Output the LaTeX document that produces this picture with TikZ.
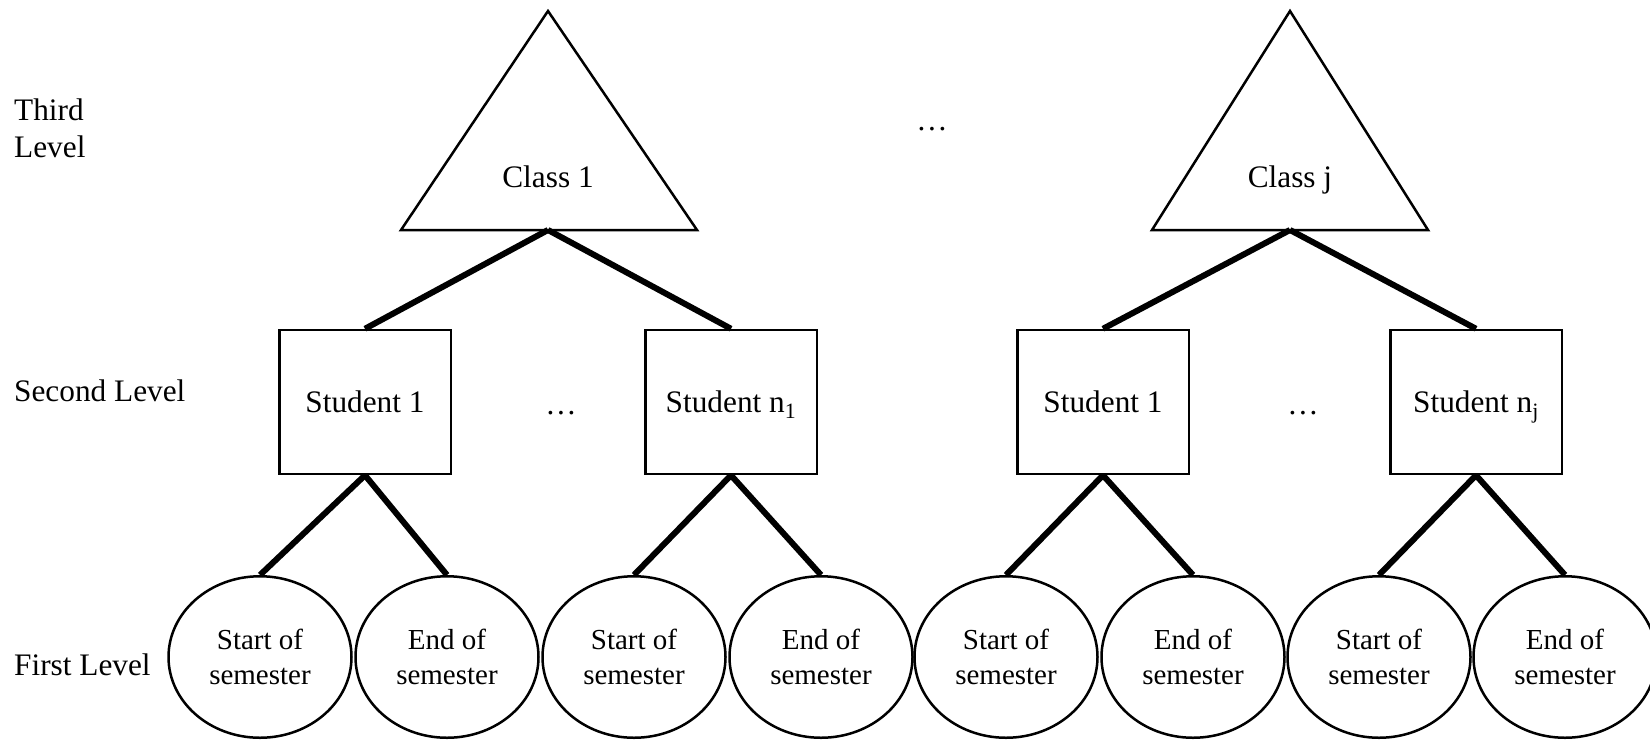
\documentclass[tikz,border=0pt]{standalone}
\usepackage{fontspec}
\setmainfont{Liberation Serif}
\usetikzlibrary{shapes.geometric,calc}
\newcommand\mainsz{\fontsize{31.3}{37}\selectfont}
\newcommand\semsz{\fontsize{29}{35}\selectfont}
\begin{document}
\begin{tikzpicture}[x=1pt,y=-1pt,
  outline/.style={line width=2.5pt},
  link/.style={line width=6pt},
  classtri/.style={outline, line join=miter},
  stud/.style={draw, outline, minimum width=171.5pt, minimum height=144pt,
    inner sep=0pt, font=\mainsz, text height=21.3pt, text depth=0pt},
  sem/.style={ellipse, draw, outline, minimum width=183pt, minimum height=161.5pt,
    inner sep=0pt, align=center, font=\semsz},
  lbl/.style={anchor=west, inner sep=0pt, align=left, font=\mainsz},
  txt/.style={inner sep=0pt, font=\mainsz, text height=21.3pt, text depth=0pt}]
\useasboundingbox (0,0) rectangle (1650,740);

% level labels
\node[lbl] (l3) at (14,128) {Third\\Level};
\node[lbl] (l2) at (14,391) {Second Level};
\node[lbl] (l1) at (14,665) {First Level};

% third level: classes
\draw[classtri] (548,11) -- (697,230) -- (401,230) -- cycle;
\coordinate (c1b) at (548,230);
\node[txt] (c1) at (548,177) {Class 1};
\draw[classtri] (1290,11) -- (1428,230) -- (1152,230) -- cycle;
\coordinate (cjb) at (1290,230);
\node[txt] (cj) at (1290,177) {Class j};
\node[inner sep=0pt, font=\mainsz] (d0) at (932,129) {…};

% second level: students
\node[stud] (s1) at (365,402) {Student 1};
\node[stud] (s2) at (731,402) {Student n\textsubscript{1}};
\node[stud] (s3) at (1103,402) {Student 1};
\node[stud] (s4) at (1476,402) {Student n\textsubscript{j}};
\node[inner sep=0pt, font=\mainsz] (d1) at (561,413) {…};
\node[inner sep=0pt, font=\mainsz] (d2) at (1303,413) {…};

% first level: occasions
\node[sem] (e1) at (260,657) {Start of\\semester};
\node[sem] (e2) at (447,657) {End of\\semester};
\node[sem] (e3) at (634,657) {Start of\\semester};
\node[sem] (e4) at (821,657) {End of\\semester};
\node[sem] (e5) at (1006,657) {Start of\\semester};
\node[sem] (e6) at (1193,657) {End of\\semester};
\node[sem] (e7) at (1379,657) {Start of\\semester};
\node[sem] (e8) at (1565,657) {End of\\semester};

% connectors
\draw[link] (c1b) -- (s1.north);
\draw[link] (c1b) -- (s2.north);
\draw[link] (cjb) -- (s3.north);
\draw[link] (cjb) -- (s4.north);
\draw[link] (s1.south) -- (e1.north);
\draw[link] (s1.south) -- (e2.north);
\draw[link] (s2.south) -- (e3.north);
\draw[link] (s2.south) -- (e4.north);
\draw[link] (s3.south) -- (e5.north);
\draw[link] (s3.south) -- (e6.north);
\draw[link] (s4.south) -- (e7.north);
\draw[link] (s4.south) -- (e8.north);
\end{tikzpicture}
\end{document}
